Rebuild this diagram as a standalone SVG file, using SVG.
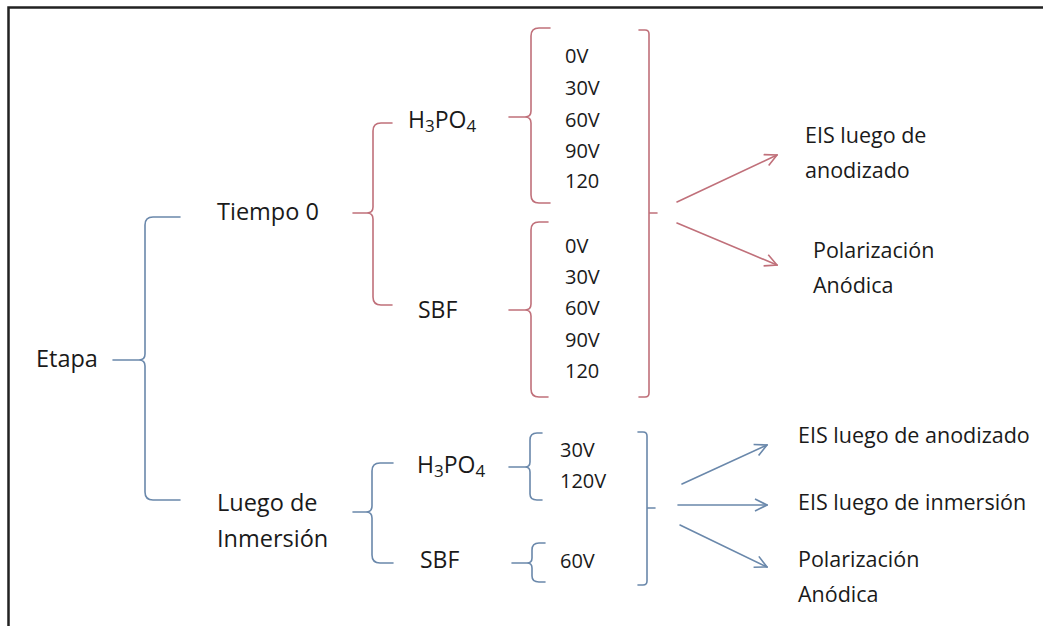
<svg xmlns="http://www.w3.org/2000/svg" width="1043" height="626" viewBox="0 0 1043 626">
<defs>
<style>
.t{font-family:"Open Sans","Liberation Sans",sans-serif;fill:#1a1a1a;}
.l{font-size:23.5px;}
.m{font-size:23px;}
.v{font-size:20px;}
.r{font-size:21.5px;}
.red{stroke:#c0707a;fill:none;stroke-width:1.6;stroke-linecap:round;stroke-linejoin:round;}
.blue{stroke:#6a88ab;fill:none;stroke-width:1.6;stroke-linecap:round;stroke-linejoin:round;}
</style>
<marker id="ar" viewBox="0 0 14 14" refX="13" refY="7" markerWidth="14" markerHeight="14" markerUnits="userSpaceOnUse" orient="auto">
<path d="M1,1 L13,7 L1,13" fill="none" stroke="#c0707a" stroke-width="1.6"/>
</marker>
<marker id="ab" viewBox="0 0 14 14" refX="13" refY="7" markerWidth="14" markerHeight="14" markerUnits="userSpaceOnUse" orient="auto">
<path d="M1,1 L13,7 L1,13" fill="none" stroke="#6a88ab" stroke-width="1.6"/>
</marker>
</defs>
<rect x="0" y="0" width="1043" height="626" fill="#fff"/>
<path d="M8.5,626 V7.5 H1043" fill="none" stroke="#222" stroke-width="2.5"/>

<g id="connectors">
<path class="blue" d="M180,217 H153 Q145,217 145,225 V354 Q145,360 139,360 Q145,360 145,366 V492 Q145,500 153,500 H180 M139,360 H113"/>
<path class="red" d="M392,123 H381 Q373,123 373,131 V207 Q373,213 367,213 Q373,213 373,219 V297 Q373,305 381,305 H392 M367,213 H353"/>
<path class="red" d="M550,28 H539 Q531,28 531,36 V111 Q531,117 525,117 Q531,117 531,123 V195 Q531,203 539,203 H550 M525,117 H509"/>
<path class="red" d="M548,222 H539 Q531,222 531,230 V304 Q531,310 525,310 Q531,310 531,316 V389 Q531,397 539,397 H548 M525,310 H509"/>
<path class="red" d="M639,30 H645 Q649,30 649,34 V393 Q649,397 645,397 H639 M649,213 H657"/>
<line class="red" x1="677" y1="202" x2="777" y2="155" marker-end="url(#ar)"/>
<line class="red" x1="677" y1="223" x2="777" y2="265" marker-end="url(#ar)"/>
<path class="blue" d="M393,463 H380 Q372,463 372,471 V506 Q372,512 366,512 Q372,512 372,518 V555 Q372,563 380,563 H393 M366,512 H353"/>
<path class="blue" d="M542,433 H537 Q530,433 530,440 V462 Q530,467 525,467 Q530,467 530,472 V494 Q530,500 537,500 H542 M525,467 H509"/>
<path class="blue" d="M545,543 H539 Q532,543 532,550 V558 Q532,563 527,563 Q532,563 532,568 V576 Q532,582 539,582 H545 M527,563 H512"/>
<path class="blue" d="M638,432 H643 Q647,432 647,436 V581 Q647,585 643,585 H638 M647,508 H655"/>
<line class="blue" x1="682" y1="484" x2="767" y2="445" marker-end="url(#ab)"/>
<line class="blue" x1="678" y1="505" x2="767" y2="505" marker-end="url(#ab)"/>
<line class="blue" x1="680" y1="525" x2="767" y2="567" marker-end="url(#ab)"/>
</g>

<g id="etapa"><text class="t l" x="36" y="367">Etapa</text></g>
<g id="tiempo0"><text class="t l" x="217" y="220">Tiempo 0</text></g>
<g id="luego"><text class="t l" x="217" y="511">Luego de</text><text class="t l" x="217" y="547">Inmersión</text></g>

<g id="h3po4-top"><text class="t m" x="408" y="128">H<tspan font-size="17" dy="4">3</tspan><tspan dy="-4">PO</tspan><tspan font-size="17" dy="4">4</tspan></text></g>
<g id="sbf-top"><text class="t m" x="418" y="318">SBF</text></g>
<g id="h3po4-bot"><text class="t m" x="417" y="473">H<tspan font-size="17" dy="4">3</tspan><tspan dy="-4">PO</tspan><tspan font-size="17" dy="4">4</tspan></text></g>
<g id="sbf-bot"><text class="t m" x="420" y="568">SBF</text></g>

<g id="v-h3po4-top">
<text class="t v" x="565" y="63">0V</text>
<text class="t v" x="565" y="95">30V</text>
<text class="t v" x="565" y="127">60V</text>
<text class="t v" x="565" y="158">90V</text>
<text class="t v" x="565" y="188">120</text>
</g>
<g id="v-sbf-top">
<text class="t v" x="565" y="253">0V</text>
<text class="t v" x="565" y="284">30V</text>
<text class="t v" x="565" y="315">60V</text>
<text class="t v" x="565" y="347">90V</text>
<text class="t v" x="565" y="378">120</text>
</g>
<g id="v-h3po4-bot">
<text class="t v" x="560" y="457">30V</text>
<text class="t v" x="560" y="488">120V</text>
</g>
<g id="v-sbf-bot"><text class="t v" x="560" y="568">60V</text></g>

<g id="eis-top"><text class="t r" x="805" y="143">EIS luego de</text><text class="t r" x="805" y="178">anodizado</text></g>
<g id="pol-top"><text class="t r" x="813" y="258">Polarización</text><text class="t r" x="813" y="293">Anódica</text></g>
<g id="eis-anod"><text class="t r" x="798" y="443">EIS luego de anodizado</text></g>
<g id="eis-inm"><text class="t r" x="798" y="510">EIS luego de inmersión</text></g>
<g id="pol-bot"><text class="t r" x="798" y="567">Polarización</text><text class="t r" x="798" y="602">Anódica</text></g>
</svg>
